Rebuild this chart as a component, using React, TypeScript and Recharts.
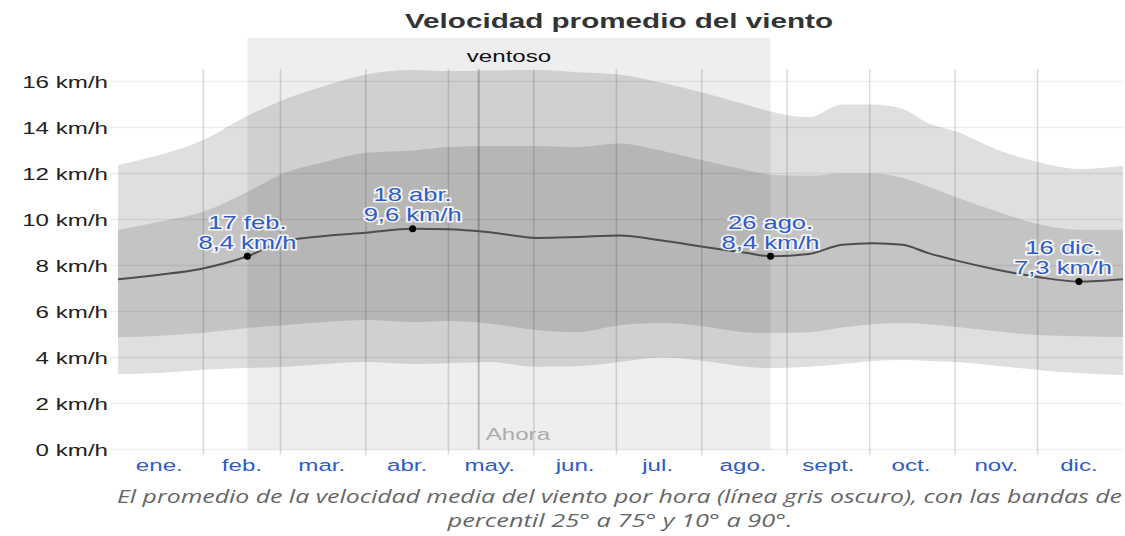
import { ComposedChart, Area, Line, Scatter, XAxis, YAxis, ReferenceArea, ReferenceLine } from "recharts";

// day of year (0 = 1 ene.)
const days = [0, 15, 30, 47, 60, 75, 90, 107, 120, 135, 152, 167, 182, 197, 213, 228, 237, 251, 263, 274, 285, 294, 305, 318, 334, 349, 365];
const p10 = [3.28, 3.33, 3.46, 3.54, 3.59, 3.72, 3.8, 3.72, 3.75, 3.8, 3.6, 3.62, 3.8, 4.0, 3.85, 3.6, 3.54, 3.6, 3.72, 3.85, 3.89, 3.85, 3.8, 3.65, 3.46, 3.33, 3.24];
const p25 = [4.88, 4.95, 5.07, 5.28, 5.4, 5.54, 5.63, 5.54, 5.59, 5.48, 5.2, 5.1, 5.4, 5.5, 5.35, 5.1, 5.07, 5.1, 5.3, 5.45, 5.5, 5.45, 5.33, 5.15, 4.98, 4.92, 4.89];
const mean = [7.4, 7.6, 7.85, 8.4, 9.05, 9.28, 9.42, 9.6, 9.58, 9.45, 9.2, 9.24, 9.3, 9.1, 8.8, 8.55, 8.4, 8.5, 8.9, 8.97, 8.9, 8.55, 8.2, 7.85, 7.5, 7.3, 7.4];
const p75 = [9.54, 9.9, 10.3, 11.2, 12.0, 12.5, 12.9, 13.0, 13.15, 13.2, 13.2, 13.15, 13.3, 13.0, 12.55, 12.15, 11.95, 11.9, 12.0, 12.0, 11.8, 11.45, 10.95, 10.4, 9.8, 9.55, 9.55];
const p90 = [12.37, 12.8, 13.4, 14.5, 15.2, 15.8, 16.3, 16.5, 16.45, 16.48, 16.5, 16.4, 16.3, 15.95, 15.5, 15.0, 14.7, 14.45, 15.0, 15.0, 14.8, 14.2, 13.8, 13.1, 12.5, 12.2, 12.33];

const months = ["ene.", "feb.", "mar.", "abr.", "may.", "jun.", "jul.", "ago.", "sept.", "oct.", "nov.", "dic."];
const monthMid = [15, 45, 74, 105, 135, 166, 196, 227, 258, 288, 319, 349];
const monthStart = [31, 59, 90, 120, 151, 181, 212, 243, 273, 304, 334];
const yTicks = [0, 2, 4, 6, 8, 10, 12, 14, 16];

const markerDays = [47, 107, 237, 349];
const markerValues = [8.4, 9.6, 8.4, 7.3];
const markerDates = ["17 feb.", "18 abr.", "26 ago.", "16 dic."];

const windyStart = 47;
const windyEnd = 237;
const today = 131;

const rows = days.map((day, i) => ({
  day,
  band90: [p10[i], p90[i]],
  band75: [p25[i], p75[i]],
  mean: mean[i],
}));
const markerRows = markerDays.map((day, i) => ({ day, mean: markerValues[i], date: markerDates[i] }));

const FONT = "'Liberation Sans', Arial, sans-serif";
const SX = 1.42;
const BLUE = "#2f5bcb";

const YTick = ({ x, y, payload }: any) => (
  <text
    transform={`translate(${x},${y}) scale(${SX},1)`}
    textAnchor="end"
    dy="0.355em"
    fontSize={17}
    fontFamily={FONT}
    fill="#222"
  >
    {payload.value} km/h
  </text>
);

const XTick = ({ x, y, payload }: any) => (
  <text
    transform={`translate(${x},${y + 21.5}) scale(${SX},1)`}
    textAnchor="middle"
    fontSize={17}
    fontFamily={FONT}
    fill={BLUE}
  >
    {months[monthMid.indexOf(payload.value)]}
  </text>
);

const WindyLabel = ({ viewBox }: any) => {
  if (!viewBox) return null;
  const { x, y, width } = viewBox;
  return (
    <text
      transform={`translate(${x + width / 2},${y + 24}) scale(${SX},1)`}
      textAnchor="middle"
      fontSize={17}
      fontFamily={FONT}
      fill="#111"
    >
      ventoso
    </text>
  );
};

const NowLabel = ({ viewBox }: any) => {
  if (!viewBox) return null;
  const { x, y, height } = viewBox;
  return (
    <text
      transform={`translate(${x + 7},${y + height - 9.5}) scale(${SX},1)`}
      textAnchor="start"
      fontSize={17}
      fontFamily={FONT}
      fill="#ababab"
    >
      Ahora
    </text>
  );
};

const Marker = ({ cx, cy, payload }: any) => {
  const halo = { stroke: "#fff", strokeWidth: 3, strokeOpacity: 0.85, paintOrder: "stroke" as const };
  // keep the label inside the plot on the right edge
  const tx = Math.min(cx, 1063);
  return (
    <g>
      <circle cx={cx} cy={cy} r={3.5} fill="#000" />
      <text
        transform={`translate(${tx},${cy - 27.5}) scale(${SX},1)`}
        textAnchor="middle"
        fontSize={18}
        fontFamily={FONT}
        fill={BLUE}
        {...halo}
      >
        {payload.date}
      </text>
      <text
        transform={`translate(${tx},${cy - 7.5}) scale(${SX},1)`}
        textAnchor="middle"
        fontSize={18}
        fontFamily={FONT}
        fill={BLUE}
        {...halo}
      >
        {payload.mean.toFixed(1).replace(".", ",")} km/h
      </text>
    </g>
  );
};

export default function App() {
  return (
    <div style={{ position: "absolute", left: 0, top: 0, width: 1125, height: 536, background: "#fff" }}>
      <ComposedChart width={1125} height={536} data={rows} margin={{ top: 38, right: 2, bottom: 56.5, left: 0 }}>
        <XAxis
          dataKey="day"
          type="number"
          domain={[0, 365]}
          ticks={monthMid}
          interval={0}
          axisLine={false}
          tickLine={false}
          tickSize={0}
          tickMargin={0}
          height={30}
          tick={<XTick />}
          allowDataOverflow
        />
        <YAxis
          type="number"
          domain={[0, 17.89]}
          ticks={yTicks}
          interval={0}
          axisLine={false}
          tickLine={false}
          tickSize={0}
          tickMargin={10}
          width={118}
          tick={<YTick />}
          allowDataOverflow
        />
        <Area
          type="monotone"
          dataKey="band90"
          fill="#dfdfdf"
          fillOpacity={1}
          stroke="none"
          activeDot={false}
          isAnimationActive={false}
        />
        <Area
          type="monotone"
          dataKey="band75"
          fill="#c4c4c4"
          fillOpacity={1}
          stroke="none"
          activeDot={false}
          isAnimationActive={false}
        />
        <ReferenceArea
          x1={windyStart}
          x2={windyEnd}
          y1={0}
          y2={17.89}
          fill="#000"
          fillOpacity={0.067}
          stroke="none"
          ifOverflow="visible"
          label={<WindyLabel />}
          zIndex={150}
        />
        {yTicks.map((v) => (
          <ReferenceLine
            key={`h${v}`}
            segment={[
              { x: -2.9, y: v },
              { x: 365, y: v },
            ]}
            stroke="#000"
            strokeOpacity={0.07}
            strokeWidth={1.5}
            ifOverflow="visible"
            zIndex={160}
          />
        ))}
        {monthStart.map((d) => (
          <ReferenceLine
            key={`v${d}`}
            segment={[
              { x: d, y: -0.24 },
              { x: d, y: 16.54 },
            ]}
            stroke="#000"
            strokeOpacity={0.14}
            strokeWidth={1.5}
            ifOverflow="visible"
            zIndex={160}
          />
        ))}
        <ReferenceLine
          segment={[
            { x: today, y: 0 },
            { x: today, y: 16.54 },
          ]}
          stroke="#000"
          strokeOpacity={0.22}
          strokeWidth={2}
          ifOverflow="visible"
          label={<NowLabel />}
          zIndex={160}
        />
        <Line
          type="monotone"
          dataKey="mean"
          stroke="#4d4d4d"
          strokeWidth={2}
          dot={false}
          activeDot={false}
          isAnimationActive={false}
        />
        <Scatter data={markerRows} dataKey="mean" shape={<Marker />} isAnimationActive={false} />
      </ComposedChart>
      <svg width={1125} height={536} style={{ position: "absolute", left: 0, top: 0, pointerEvents: "none" }}>
        <text
          x={619}
          y={28}
          textAnchor="middle"
          fontSize={21}
          fontWeight="bold"
          fontFamily={FONT}
          fill="#333"
          textLength={428}
          lengthAdjust="spacingAndGlyphs"
        >
          Velocidad promedio del viento
        </text>
        <text
          x={619.5}
          y={503}
          textAnchor="middle"
          fontSize={18}
          fontStyle="italic"
          fontFamily="'Open Sans', sans-serif"
          fill="#666"
          textLength={1005}
          lengthAdjust="spacingAndGlyphs"
        >
          El promedio de la velocidad media del viento por hora (línea gris oscuro), con las bandas de
        </text>
        <text
          x={620}
          y={527}
          textAnchor="middle"
          fontSize={18}
          fontStyle="italic"
          fontFamily="'Open Sans', sans-serif"
          fill="#666"
          textLength={345}
          lengthAdjust="spacingAndGlyphs"
        >
          percentil 25° a 75° y 10° a 90°.
        </text>
      </svg>
    </div>
  );
}
